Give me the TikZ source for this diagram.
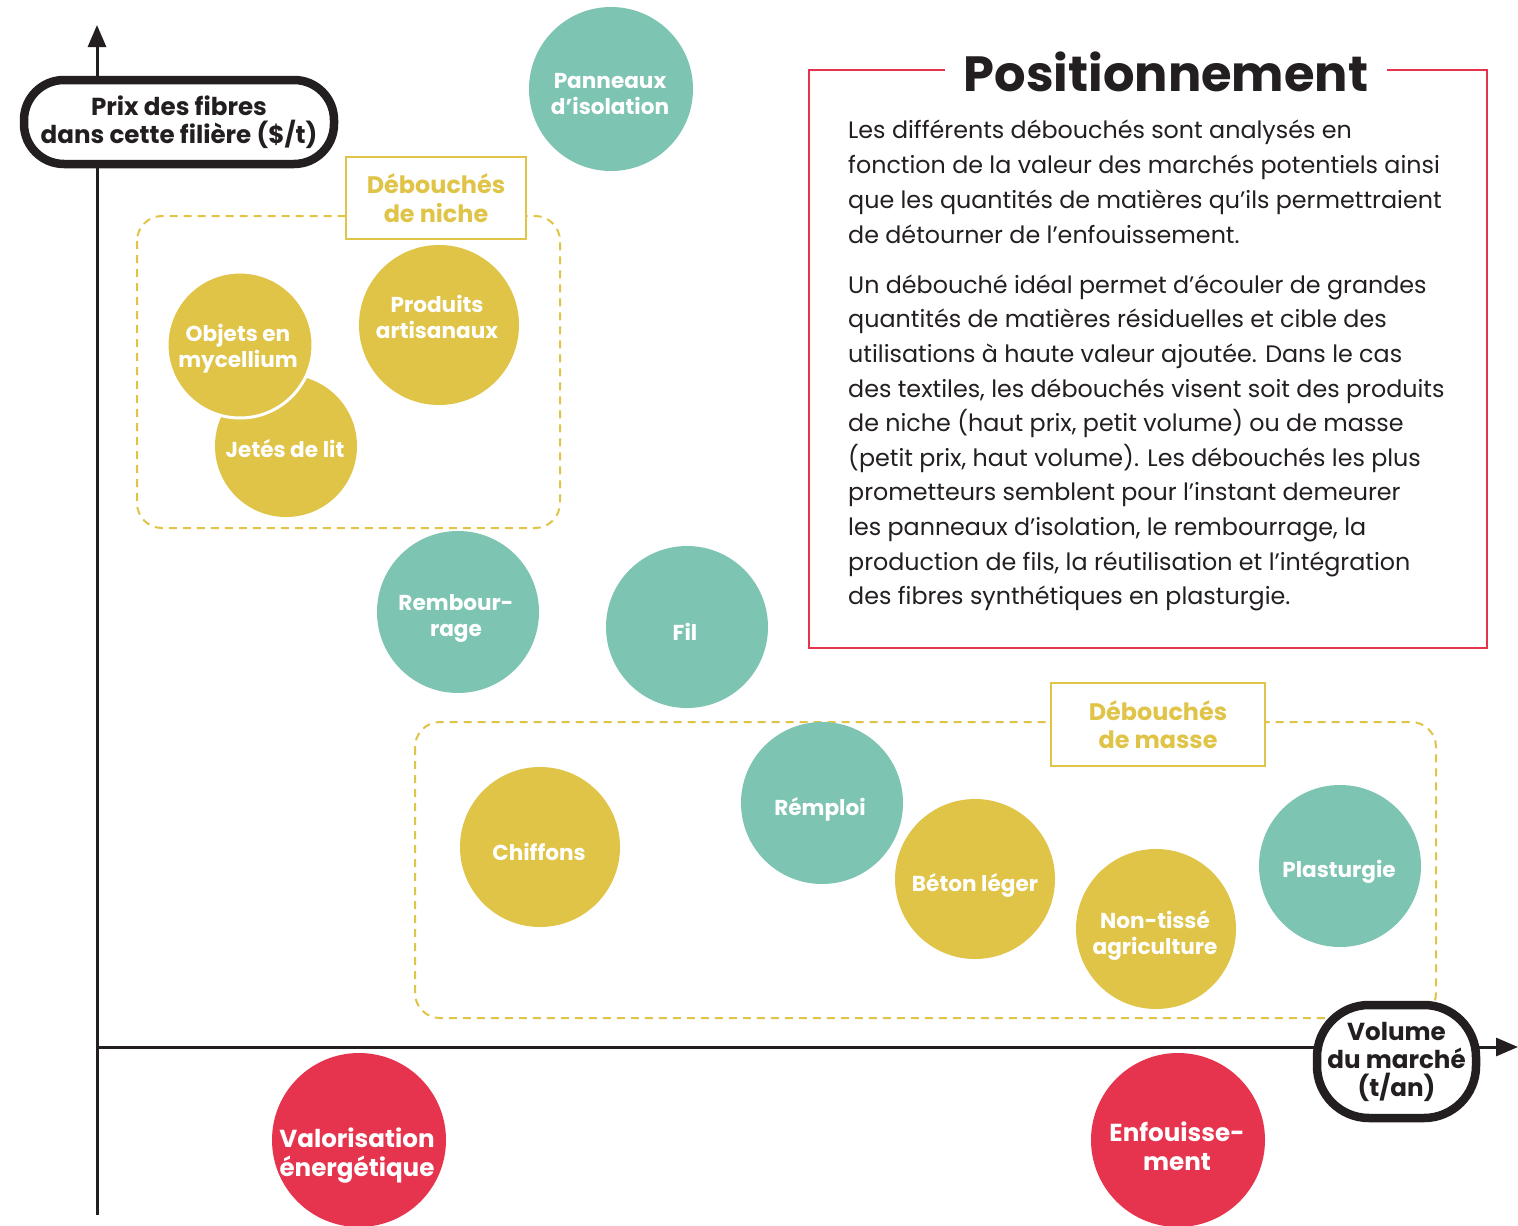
\documentclass[tikz,border=0pt]{standalone}
\usepackage{fontspec}
\setmainfont{Poppins}
\usetikzlibrary{arrows.meta}
\definecolor{teal1}{HTML}{7DC4B3}
\definecolor{yel1}{HTML}{E0C448}
\definecolor{red1}{HTML}{E6334E}
\definecolor{ink}{HTML}{231F20}
\tikzset{
  circ/.style={circle,inner sep=0pt,minimum size=#1},
  tc/.style={circ=#1,fill=teal1},
  yc/.style={circ=#1,fill=yel1},
  rc/.style={circ=#1,fill=red1},
  ctext/.style={text=white,align=center,font=\bfseries\fontsize{21.6}{26}\selectfont,inner sep=0pt},
  bigtext/.style={text=white,align=center,font=\bfseries\fontsize{24.6}{29}\selectfont,inner sep=0pt},
  axislab/.style={draw=ink,line width=8.5pt,fill=white,rounded corners=#1,align=center,text=ink,
     font=\bfseries\fontsize{24.6}{28}\selectfont,inner sep=0pt},
  grouplab/.style={draw=yel1,line width=2pt,fill=white,align=center,text=yel1,
     font=\bfseries\fontsize{23.9}{28.5}\selectfont,inner sep=0pt},
  groupbox/.style={draw=yel1,line width=2pt,dash pattern=on 8pt off 6pt,rounded corners=25pt},
  axisline/.style={draw=ink,line width=3pt,-{Triangle[length=22pt,width=18pt]}},
  bodyline/.style={anchor=base west,inner sep=0pt,text=ink,font=\fontsize{23.8}{34}\selectfont},
}
\begin{document}
\begin{tikzpicture}[x=1pt,y=-1pt]
\useasboundingbox[fill=white] (0,0) rectangle (1518,1226);

% group boxes
\draw[groupbox] (137,216) rectangle (560,528);
\draw[groupbox] (415,722) rectangle (1436,1018);
\node[grouplab,minimum width=180pt,minimum height=82pt] (nichelab) at (436,198) {Débouchés\\de niche};
\node[grouplab,minimum width=214pt,minimum height=83pt] (masselab) at (1158,724.5) {Débouchés\\de masse};

% axes
\coordinate (ybot) at (97,1215);
\coordinate (ytop) at (97,25);
\coordinate (xleft) at (97,1047);
\coordinate (xright) at (1518,1047);
\draw[axisline] (ybot) -- (ytop);
\draw[axisline] (xleft) -- (xright);
\node[axislab=40pt,minimum width=310pt,minimum height=84pt] (ylab) at (179,122) {Prix des fibres\\dans cette filière (\$/t)};
\node[axislab=52pt,minimum width=159pt,minimum height=113pt] (xlab) at (1396.5,1061.5) {Volume\\du marché\\(t/an)};

% positionnement box
\draw[red1,line width=1.5pt] (809,70) rectangle (1487,648);
\node[fill=white,inner xsep=19pt,inner ysep=2pt,text=ink,font=\bfseries\fontsize{49.5}{51}\selectfont] (title) at (1166,72) {Positionnement};
\foreach \i/\yy/\t in {
 1/138/{Les différents débouchés sont analysés en},
 2/173/{fonction de la valeur des marchés potentiels ainsi},
 3/208/{que les quantités de matières qu’ils permettraient},
 4/243/{de détourner de l’enfouissement.},
 5/293/{Un débouché idéal permet d’écouler de grandes},
 6/327/{quantités de matières résiduelles et cible des},
 7/362/{utilisations à haute valeur ajoutée. Dans le cas},
 8/397/{des textiles, les débouchés visent soit des produits},
 9/431/{de niche (haut prix, petit volume) ou de masse},
 10/466/{(petit prix, haut volume). Les débouchés les plus},
 11/500/{prometteurs semblent pour l’instant demeurer},
 12/535/{les panneaux d’isolation, le rembourrage, la},
 13/570/{production de fils, la réutilisation et l’intégration},
 14/604/{des fibres synthétiques en plasturgie.}}
 {\node[bodyline] (body\i) at (848,\yy) {\t};}

% circles
\node[tc=164pt] (pan) at (611,89) {};
\node[ctext] (pant) at (610,94) {Panneaux\\d’isolation};
\node[yc=142pt] (jet) at (286,446) {};
\node[ctext] (jett) at (285,449) {Jetés de lit};
\node[yc=146pt,draw=white,line width=3pt] (obj) at (240,345) {};
\node[ctext] (objt) at (238,349) {Objets en\\mycellium};
\node[yc=160pt] (prod) at (439,325) {};
\node[ctext] (prodt) at (437,317) {Produits\\artisanaux};
\node[tc=162pt] (remb) at (458,612) {};
\node[ctext] (rembt) at (456,618) {Rembour-\\rage};
\node[tc=162pt] (fil) at (687,627) {};
\node[ctext] (filt) at (685,632) {Fil};
\node[yc=160pt] (chif) at (540,847) {};
\node[ctext] (chift) at (539,852) {Chiffons};
\node[tc=162pt] (remp) at (822,803) {};
\node[ctext] (rempt) at (820,809) {Rémploi};
\node[yc=160pt] (beton) at (975,879) {};
\node[ctext] (betont) at (975,885) {Béton léger};
\node[yc=160pt] (nont) at (1156,929) {};
\node[ctext] (nontt) at (1155,935) {Non-tissé\\agriculture};
\node[tc=162pt] (plast) at (1340,866) {};
\node[ctext] (plastt) at (1339,872) {Plasturgie};
\node[rc=174pt] (valo) at (359,1140) {};
\node[bigtext] (valot) at (357,1156) {Valorisation\\énergétique};
\node[rc=174pt] (enf) at (1178,1140) {};
\node[bigtext] (enft) at (1177,1146) {Enfouisse-\\ment};
\end{tikzpicture}
\end{document}
